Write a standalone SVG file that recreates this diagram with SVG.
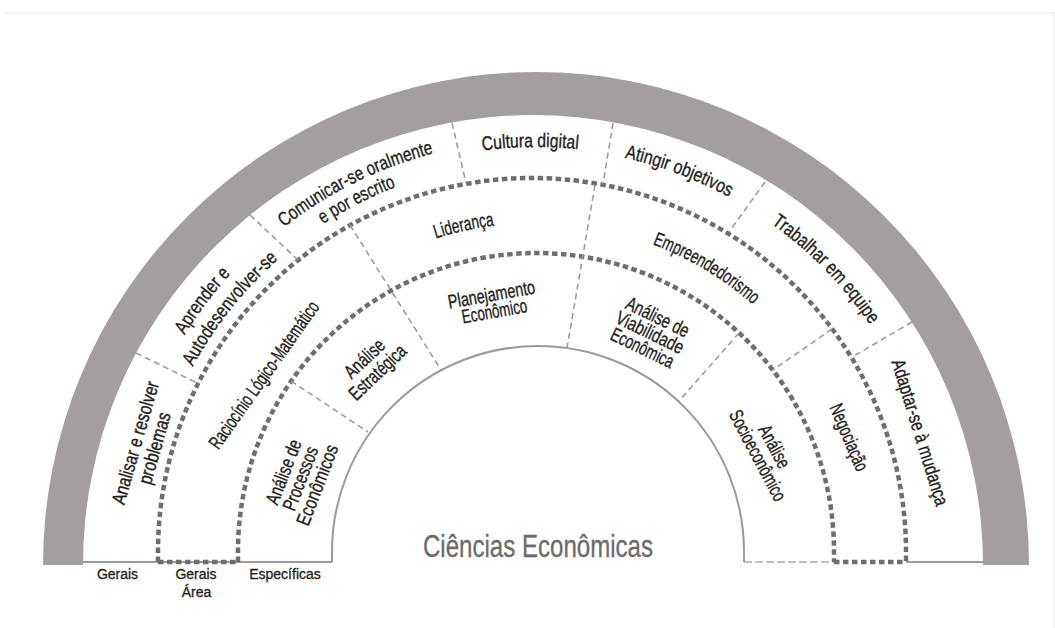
<svg xmlns="http://www.w3.org/2000/svg" width="1055" height="628" viewBox="0 0 1055 628">
<defs>
<style>
.t{font-family:"Liberation Sans",Arial,sans-serif;font-size:19.5px;fill:#1d1d1b;stroke:#1d1d1b;stroke-width:0.35px;}
.lab{font-family:"Liberation Sans",Arial,sans-serif;font-size:14px;fill:#1d1d1b;stroke:#1d1d1b;stroke-width:0.3px;text-anchor:middle;}
.dot{fill:none;stroke:#6e6e6e;stroke-width:4.5;stroke-dasharray:5.5 3.5;}
.sep{fill:none;stroke:#9c9c9c;stroke-width:1.6;stroke-dasharray:6 4;}
.solid{fill:none;stroke:#9a9a9a;stroke-width:2;}
</style>
<path id="pAprender" d="M126.1 501.6 A413 413 0 0 1 374.6 171.8"/>
<path id="pAuto" d="M150.3 494.4 A390 390 0 0 1 393.1 189.1"/>
<path id="pComun" d="M194.4 323.8 A412 412 0 0 1 564.7 141.0"/>
<path id="pEscrito" d="M208.1 339.0 A391 391 0 0 1 556.5 161.5"/>
<path id="pCultura" d="M328.6 204.1 A405 405 0 0 1 733.6 198.5"/>
<path id="pAtingir" d="M470.0 153.4 A404 404 0 0 1 848.2 295.6"/>
<path id="pTrab" d="M645.3 163.1 A404 404 0 0 1 927.5 452.2"/>
<path id="pLider" d="M313.7 309.4 A329 329 0 0 1 634.9 238.2"/>
<path id="pEmpre" d="M541.7 223.0 A329 329 0 0 1 823.8 392.5"/>
</defs>
<rect width="1055" height="628" fill="#ffffff"/>
<path d="M4 13 H1054 V628" fill="none" stroke="#f1f0ea" stroke-width="1.5"/>

<g id="band">
<path d="M43 565 A493 493 0 0 1 1029 565 L983 565 A450 450 0 0 0 83 565 Z" fill="#a39f9e"/>
</g>

<g id="connectors">
<path class="solid" d="M83 562 H332"/>
<path class="solid" d="M906 562 H983"/>
<path d="M744 562 H834" fill="none" stroke="#aaaaaa" stroke-width="1.5" stroke-dasharray="8 3"/>
<path class="solid" d="M332 562 L332 552 A206 206 0 0 1 744 552 L744 562"/>
<path class="dot" d="M238 562 L238 551 A298 298 0 0 1 834 551 L834 562"/>
<path class="dot" d="M158 562 L158 552 A374 374 0 0 1 906 552 L906 562"/>
<path class="dot" d="M158 562 H238"/>
<path class="dot" d="M834 562 H906"/>
<path class="sep" d="M136 353 L197 383"/>
<path class="sep" d="M250 215 L298 260"/>
<path class="sep" d="M452 123 L466 183"/>
<path class="sep" d="M613 123 L603 184"/>
<path class="sep" d="M765 182 L729 232"/>
<path class="sep" d="M912 322 L854 356"/>
<path class="sep" d="M350 225 L441 370"/>
<path class="sep" d="M595 185 L567 348"/>
<path class="sep" d="M832 329 L773 370"/>
<path class="sep" d="M291 381 L368 432"/>
<path class="sep" d="M739 333 L679 401"/>
</g>

<g id="node-analisar" transform="translate(145,445.5) rotate(-74)">
<text class="t" text-anchor="middle" x="0" y="-3.5" textLength="127" lengthAdjust="spacingAndGlyphs">Analisar e resolver</text>
<text class="t" text-anchor="middle" x="0" y="16.5" textLength="74" lengthAdjust="spacingAndGlyphs">problemas</text>
</g>
<g id="node-aprender">
<text class="t"><textPath href="#pAprender" startOffset="50%" text-anchor="middle" textLength="77" lengthAdjust="spacingAndGlyphs">Aprender e</textPath></text>
<text class="t"><textPath href="#pAuto" startOffset="50%" text-anchor="middle" textLength="138" lengthAdjust="spacingAndGlyphs">Autodesenvolver-se</textPath></text>
</g>
<g id="node-comunicar">
<text class="t"><textPath href="#pComun" startOffset="50%" text-anchor="middle" textLength="168" lengthAdjust="spacingAndGlyphs">Comunicar-se oralmente</textPath></text>
<text class="t"><textPath href="#pEscrito" startOffset="50%" text-anchor="middle" textLength="82" lengthAdjust="spacingAndGlyphs">e por escrito</textPath></text>
</g>
<g id="node-cultura">
<text class="t"><textPath href="#pCultura" startOffset="50%" text-anchor="middle" textLength="96" lengthAdjust="spacingAndGlyphs">Cultura digital</textPath></text>
</g>
<g id="node-atingir">
<text class="t"><textPath href="#pAtingir" startOffset="50%" text-anchor="middle" textLength="112" lengthAdjust="spacingAndGlyphs">Atingir objetivos</textPath></text>
</g>
<g id="node-trabalhar">
<text class="t"><textPath href="#pTrab" startOffset="50%" text-anchor="middle" textLength="142" lengthAdjust="spacingAndGlyphs">Trabalhar em equipe</textPath></text>
</g>
<g id="node-adaptar" transform="translate(920,432.5) rotate(72.8)">
<text class="t" text-anchor="middle" x="0" y="6.5" textLength="152" lengthAdjust="spacingAndGlyphs">Adaptar-se à mudança</text>
</g>

<g id="node-raciocinio" transform="translate(264,375) rotate(-54.7)">
<text class="t" text-anchor="middle" x="0" y="6.5" textLength="176" lengthAdjust="spacingAndGlyphs">Raciocínio Lógico-Matemático</text>
</g>
<g id="node-lideranca">
<text class="t"><textPath href="#pLider" startOffset="50%" text-anchor="middle" textLength="60" lengthAdjust="spacingAndGlyphs">Liderança</textPath></text>
</g>
<g id="node-empreendedorismo">
<text class="t"><textPath href="#pEmpre" startOffset="50%" text-anchor="middle" textLength="118" lengthAdjust="spacingAndGlyphs">Empreendedorismo</textPath></text>
</g>
<g id="node-negociacao" transform="translate(849,437.5) rotate(67)">
<text class="t" text-anchor="middle" x="0" y="6.5" textLength="71" lengthAdjust="spacingAndGlyphs">Negociação</text>
</g>

<g id="node-processos" transform="translate(300.5,478.5) rotate(-69)">
<text class="t" text-anchor="middle" x="0" y="-11.5" textLength="68" lengthAdjust="spacingAndGlyphs">Análise de</text>
<text class="t" text-anchor="middle" x="0" y="6.5" textLength="67" lengthAdjust="spacingAndGlyphs">Processos</text>
<text class="t" text-anchor="middle" x="0" y="24.5" textLength="85" lengthAdjust="spacingAndGlyphs">Econômicos</text>
</g>
<g id="node-estrategica" transform="translate(371,365.5) rotate(-43.5)">
<text class="t" text-anchor="middle" x="0" y="-3" textLength="48" lengthAdjust="spacingAndGlyphs">Análise</text>
<text class="t" text-anchor="middle" x="0" y="16" textLength="71" lengthAdjust="spacingAndGlyphs">Estratégica</text>
</g>
<g id="node-planejamento" transform="translate(493,303) rotate(-10)">
<text class="t" text-anchor="middle" x="0" y="-2" textLength="88" lengthAdjust="spacingAndGlyphs">Planejamento</text>
<text class="t" text-anchor="middle" x="0" y="15" textLength="66" lengthAdjust="spacingAndGlyphs">Econômico</text>
</g>
<g id="node-viabilidade" transform="translate(650,332.5) rotate(26)">
<text class="t" text-anchor="middle" x="0" y="-10.7" textLength="68" lengthAdjust="spacingAndGlyphs">Análise de</text>
<text class="t" text-anchor="middle" x="0" y="6.5" textLength="73" lengthAdjust="spacingAndGlyphs">Viabilidade</text>
<text class="t" text-anchor="middle" x="0" y="23.7" textLength="68" lengthAdjust="spacingAndGlyphs">Econômica</text>
</g>
<g id="node-socioeconomico" transform="translate(766,451) rotate(62)">
<text class="t" text-anchor="middle" x="0" y="-3" textLength="46" lengthAdjust="spacingAndGlyphs">Análise</text>
<text class="t" text-anchor="middle" x="0" y="16" textLength="100" lengthAdjust="spacingAndGlyphs">Socioeconômico</text>
</g>

<g id="node-title">
<text x="538" y="557" text-anchor="middle" font-family="Liberation Sans, Arial, sans-serif" font-size="31" fill="#6b6b6b" stroke="#6b6b6b" stroke-width="0.3" textLength="230" lengthAdjust="spacingAndGlyphs">Ciências Econômicas</text>
</g>
<g id="labels">
<text class="lab" x="117.5" y="579">Gerais</text>
<text class="lab" x="196" y="579">Gerais</text>
<text class="lab" x="196.5" y="597">Área</text>
<text class="lab" x="285" y="579">Específicas</text>
</g>
</svg>
